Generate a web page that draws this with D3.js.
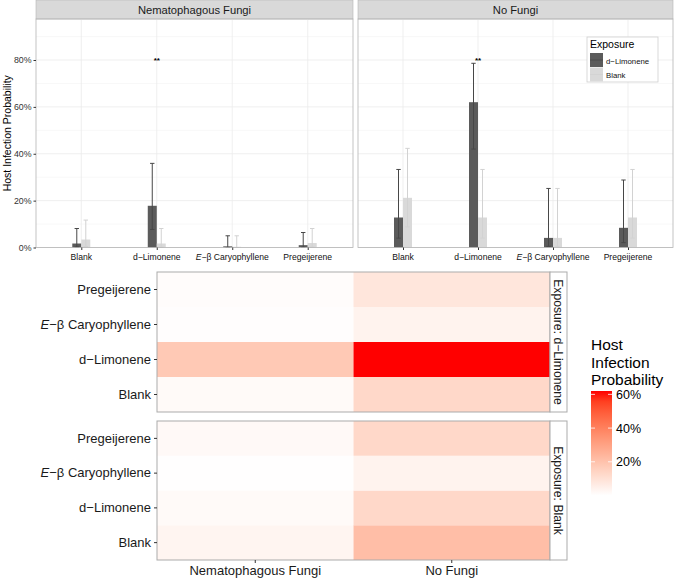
<!DOCTYPE html>
<html>
<head>
<meta charset="utf-8">
<script src="https://cdn.jsdelivr.net/npm/d3@7"></script>
<style>
body { margin: 0; background: #fff; }
text { font-family: "Liberation Sans", Arial, sans-serif; }
</style>
</head>
<body>
<div id="chart"></div>
<script>
var treatments = ["Blank", "d\u2212Limonene", "E\u2212\u03b2 Caryophyllene", "Pregeijerene"];
var fungi = ["Nematophagous Fungi", "No Fungi"];
var exposures = ["d\u2212Limonene", "Blank"];
var yTicks = [0, 0.2, 0.4, 0.6, 0.8];
var legendTicks = [0.2, 0.4, 0.6];

// estimates (mean, lower, upper)
var nemaLimMean = [0.017, 0.178, 0.005, 0.010];
var nemaLimLow = [0.002, 0.077, 0.000, 0.001];
var nemaLimHigh = [0.081, 0.359, 0.050, 0.064];
var nemaBlankMean = [0.034, 0.017, 0.003, 0.019];
var nemaBlankLow = [0.004, 0.001, 0.000, 0.002];
var nemaBlankHigh = [0.117, 0.081, 0.050, 0.081];
var noLimMean = [0.128, 0.620, 0.041, 0.084];
var noLimLow = [0.040, 0.420, 0.005, 0.021];
var noLimHigh = [0.333, 0.786, 0.252, 0.288];
var noBlankMean = [0.212, 0.128, 0.041, 0.128];
var noBlankLow = [0.088, 0.040, 0.005, 0.040];
var noBlankHigh = [0.423, 0.333, 0.252, 0.333];
var signif = ["", "**", "", ""];

var series = [
  {f: fungi[0], e: exposures[0], mean: nemaLimMean, lo: nemaLimLow, hi: nemaLimHigh},
  {f: fungi[0], e: exposures[1], mean: nemaBlankMean, lo: nemaBlankLow, hi: nemaBlankHigh},
  {f: fungi[1], e: exposures[0], mean: noLimMean, lo: noLimLow, hi: noLimHigh},
  {f: fungi[1], e: exposures[1], mean: noBlankMean, lo: noBlankLow, hi: noBlankHigh}
];
var rows = [];
series.forEach(function(s) {
  treatments.forEach(function(t, i) {
    rows.push({f: s.f, e: s.e, t: t, mean: s.mean[i], lo: s.lo[i], hi: s.hi[i]});
  });
});

var svg = d3.select("#chart").append("svg")
    .attr("width", 675)
    .attr("height", 581);

var barFill = {"d\u2212Limonene": "#5b5b5b", "Blank": "#d9d9d9"};
var errCol = {"d\u2212Limonene": "#474747", "Blank": "#d2d2d2"};
var pct = d3.format(".0%");

// label with italic E for caryophyllene
function treatLabel(sel) {
  sel.each(function(d) {
    var t = d3.select(this);
    if (d.indexOf("Caryophyllene") >= 0) {
      t.append("tspan").style("font-style", "italic").text("E");
      t.append("tspan").text(d.slice(1));
    } else {
      t.text(d);
    }
  });
}

//---------- top: bar chart facets ----------
var bars = {y0: 19, y1: 247.5};
var panelX = {};
panelX[fungi[0]] = [36, 353];
panelX[fungi[1]] = [358, 673];

var y = d3.scaleLinear()
    .domain([0, 0.975])
    .range([bars.y1, bars.y0]);

var dodge = d3.scaleBand()
    .domain(exposures)
    .range([-9, 9]);

fungi.forEach(function(f) {
  var px = panelX[f];
  var x = d3.scalePoint()
      .domain(treatments)
      .range(px)
      .padding(0.6);
  var g = svg.append("g");

  // strip
  g.append("rect")
      .attr("x", px[0]).attr("y", 0)
      .attr("width", px[1] - px[0]).attr("height", bars.y0)
      .attr("fill", "#d9d9d9").attr("stroke", "#b5b5b5").attr("stroke-width", 0.6);
  g.append("text")
      .attr("x", (px[0] + px[1]) / 2).attr("y", 13.5)
      .attr("text-anchor", "middle").attr("font-size", 11.2).attr("fill", "#1a1a1a")
      .text(f);

  // grid
  var minor = d3.range(0.1, 0.95, 0.2);
  g.selectAll(".minor").data(minor).enter().append("line")
      .attr("x1", px[0]).attr("x2", px[1])
      .attr("y1", function(d) { return y(d); }).attr("y2", function(d) { return y(d); })
      .attr("stroke", "#f4f4f4").attr("stroke-width", 0.6);
  g.selectAll(".major").data(yTicks).enter().append("line")
      .attr("x1", px[0]).attr("x2", px[1])
      .attr("y1", function(d) { return y(d); }).attr("y2", function(d) { return y(d); })
      .attr("stroke", "#ebebeb").attr("stroke-width", 0.8);
  g.selectAll(".vgrid").data(treatments).enter().append("line")
      .attr("x1", function(d) { return x(d); }).attr("x2", function(d) { return x(d); })
      .attr("y1", bars.y0).attr("y2", bars.y1)
      .attr("stroke", "#ebebeb").attr("stroke-width", 0.8);

  var data = rows.filter(function(r) { return r.f == f; });

  // bars
  g.selectAll(".bar").data(data).enter().append("rect")
      .attr("x", function(d) { return x(d.t) + dodge(d.e); })
      .attr("width", dodge.bandwidth())
      .attr("y", function(d) { return y(d.mean); })
      .attr("height", function(d) { return y(0) - y(d.mean); })
      .attr("fill", function(d) { return barFill[d.e]; });

  // error bars
  var eb = g.selectAll(".err").data(data).enter().append("g")
      .attr("stroke", function(d) { return errCol[d.e]; })
      .attr("stroke-width", 1);
  eb.append("line")
      .attr("x1", function(d) { return x(d.t) + dodge(d.e) + dodge.bandwidth() / 2; })
      .attr("x2", function(d) { return x(d.t) + dodge(d.e) + dodge.bandwidth() / 2; })
      .attr("y1", function(d) { return y(d.lo); })
      .attr("y2", function(d) { return y(d.hi); });
  eb.append("line")
      .attr("x1", function(d) { return x(d.t) + dodge(d.e) + dodge.bandwidth() / 2 - 2.2; })
      .attr("x2", function(d) { return x(d.t) + dodge(d.e) + dodge.bandwidth() / 2 + 2.2; })
      .attr("y1", function(d) { return y(d.hi); })
      .attr("y2", function(d) { return y(d.hi); });
  eb.append("line")
      .attr("x1", function(d) { return x(d.t) + dodge(d.e) + dodge.bandwidth() / 2 - 2.2; })
      .attr("x2", function(d) { return x(d.t) + dodge(d.e) + dodge.bandwidth() / 2 + 2.2; })
      .attr("y1", function(d) { return y(d.lo); })
      .attr("y2", function(d) { return y(d.lo); });

  // significance stars
  g.selectAll(".sig").data(treatments).enter().append("text")
      .attr("x", function(d) { return x(d); })
      .attr("y", y(0.8) + 3)
      .attr("text-anchor", "middle").attr("font-size", 8).attr("font-weight", "bold")
      .text(function(d, i) { return signif[i]; });

  // border
  g.append("rect")
      .attr("x", px[0]).attr("y", bars.y0)
      .attr("width", px[1] - px[0]).attr("height", bars.y1 - bars.y0)
      .attr("fill", "none").attr("stroke", "#b5b5b5").attr("stroke-width", 0.8);

  // x axis
  var xa = g.append("g")
      .attr("transform", "translate(0," + bars.y1 + ")")
      .call(d3.axisBottom(x).tickSize(2.5).tickPadding(3).tickFormat(""));
  xa.select(".domain").remove();
  xa.selectAll("line").attr("stroke", "#333");
  xa.selectAll(".tick text").remove();
  g.selectAll(".xl").data(treatments).enter().append("text")
      .attr("x", function(d) { return x(d); })
      .attr("y", bars.y1 + 12.5)
      .attr("text-anchor", "middle").attr("font-size", 8.6).attr("fill", "#111")
      .call(treatLabel);
});

// y axis
var ya = svg.append("g")
    .attr("transform", "translate(36,0)")
    .call(d3.axisLeft(y).tickValues(yTicks).tickFormat(pct).tickSize(2.5).tickPadding(2));
ya.select(".domain").remove();
ya.selectAll("line").attr("stroke", "#333");
ya.selectAll("text").attr("font-size", 8.8).attr("fill", "#333")
    .style("font-family", "'Liberation Sans', Arial, sans-serif");

svg.append("text")
    .attr("transform", "translate(11," + (bars.y0 + bars.y1) / 2 + ") rotate(-90)")
    .attr("text-anchor", "middle").attr("font-size", 10.5).attr("fill", "#000")
    .text("Host Infection Probability");

// exposure legend
var lg = svg.append("g").attr("transform", "translate(587,37)");
lg.append("rect").attr("width", 71).attr("height", 45)
    .attr("fill", "#fff").attr("stroke", "#cfcfcf").attr("stroke-width", 0.8);
lg.append("text").attr("x", 3).attr("y", 11).attr("font-size", 10.5).attr("fill", "#000")
    .text("Exposure");
var lk = lg.selectAll(".key").data(exposures).enter().append("g")
    .attr("transform", function(d, i) { return "translate(3," + (16 + i * 14.5) + ")"; });
lk.append("rect").attr("width", 13).attr("height", 14)
    .attr("fill", function(d) { return barFill[d]; });
lk.append("line").attr("x1", 0).attr("x2", 13).attr("y1", 7).attr("y2", 7)
    .attr("stroke", function(d) { return errCol[d]; }).attr("stroke-width", 0.8);
lk.append("text").attr("x", 16).attr("y", 10.5).attr("font-size", 7.8).attr("fill", "#111")
    .text(function(d) { return d; });

//---------- bottom: heatmap facets ----------
var hx = d3.scaleBand()
    .domain(fungi)
    .range([157, 550]);

var maxV = d3.max(rows, function(d) { return d.mean; });
var minV = d3.min(rows, function(d) { return d.mean; });
var color = d3.scaleLinear()
    .domain([0, maxV])
    .range(["#ffffff", "#ff0000"])
    .interpolate(d3.interpolateLab);

var hPanels = [
  {e: exposures[0], y0: 272, y1: 412, lab: "Exposure: d\u2212Limonene"},
  {e: exposures[1], y0: 421, y1: 560, lab: "Exposure: Blank"}
];

hPanels.forEach(function(p) {
  var hy = d3.scaleBand()
      .domain(treatments.slice().reverse())
      .range([p.y0, p.y1]);
  var g = svg.append("g");
  var data = rows.filter(function(r) { return r.e == p.e; });

  g.selectAll(".cell").data(data).enter().append("rect")
      .attr("x", function(d) { return hx(d.f); })
      .attr("y", function(d) { return hy(d.t); })
      .attr("width", hx.bandwidth())
      .attr("height", hy.bandwidth())
      .attr("fill", function(d) { return color(d.mean); });

  g.append("rect")
      .attr("x", 157).attr("y", p.y0)
      .attr("width", 550 - 157).attr("height", p.y1 - p.y0)
      .attr("fill", "none").attr("stroke", "#ababab").attr("stroke-width", 1);

  // strip
  g.append("rect")
      .attr("x", 550).attr("y", p.y0)
      .attr("width", 17).attr("height", p.y1 - p.y0)
      .attr("fill", "#fff").attr("stroke", "#ababab").attr("stroke-width", 1);
  g.append("text")
      .attr("transform", "translate(554," + (p.y0 + p.y1) / 2 + ") rotate(90)")
      .attr("text-anchor", "middle").attr("font-size", 12.2).attr("fill", "#1a1a1a")
      .text(p.lab);

  // y axis
  var a = g.append("g")
      .attr("transform", "translate(157,0)")
      .call(d3.axisLeft(hy).tickSize(3).tickPadding(3));
  a.select(".domain").remove();
  a.selectAll("line").attr("stroke", "#333");
  a.selectAll(".tick text").text(null).attr("font-size", 13).attr("fill", "#1a1a1a")
      .style("font-family", "'Liberation Sans', Arial, sans-serif")
      .call(treatLabel);
});

var hxa = svg.append("g")
    .attr("transform", "translate(0,560)")
    .call(d3.axisBottom(hx).tickSize(3).tickPadding(3));
hxa.select(".domain").remove();
hxa.selectAll("line").attr("stroke", "#333");
hxa.selectAll("text").attr("font-size", 13).attr("fill", "#1a1a1a")
    .style("font-family", "'Liberation Sans', Arial, sans-serif");

// colour legend
var cl = svg.append("g");
cl.selectAll(".tt").data(["Host", "Infection", "Probability"]).enter().append("text")
    .attr("x", 591).attr("y", function(d, i) { return 350 + i * 17.5; })
    .attr("font-size", 15.5).attr("fill", "#000").text(function(d) { return d; });

var ly = d3.scaleLinear().domain([minV, maxV]).range([495, 391]);
var grad = svg.append("defs").append("linearGradient")
    .attr("id", "hip").attr("x1", 0).attr("x2", 0).attr("y1", 1).attr("y2", 0);
d3.range(0, 1.01, 0.1).forEach(function(t) {
  grad.append("stop").attr("offset", t)
      .attr("stop-color", color(minV + t * (maxV - minV)));
});
cl.append("rect")
    .attr("x", 591).attr("y", ly(maxV))
    .attr("width", 21).attr("height", ly(minV) - ly(maxV))
    .attr("fill", "url(#hip)");
legendTicks.forEach(function(v) {
  cl.append("line").attr("x1", 591).attr("x2", 595).attr("y1", ly(v)).attr("y2", ly(v))
      .attr("stroke", "#fff").attr("stroke-width", 0.8);
  cl.append("line").attr("x1", 608).attr("x2", 612).attr("y1", ly(v)).attr("y2", ly(v))
      .attr("stroke", "#fff").attr("stroke-width", 0.8);
  cl.append("text").attr("x", 616).attr("y", ly(v) + 4.5)
      .attr("font-size", 12.5).attr("fill", "#000").text(pct(v));
});
</script>
</body>
</html>
